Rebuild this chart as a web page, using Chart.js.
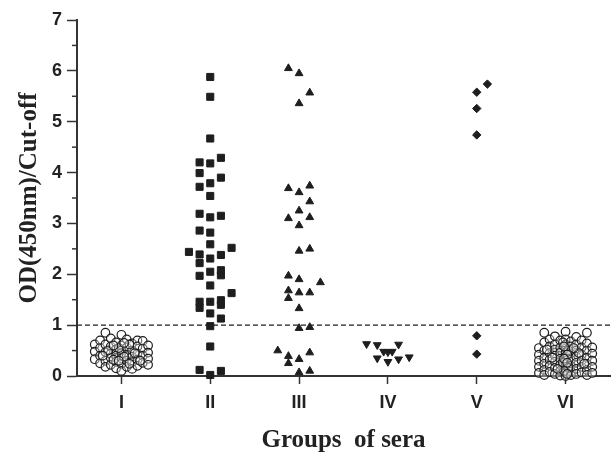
<!DOCTYPE html>
<html>
<head>
<meta charset="utf-8">
<script src="https://cdn.jsdelivr.net/npm/chart.js@4"></script>
<style>
  body { margin: 0; background: #fff; }
  canvas { display: block; }
</style>
</head>
<body>
<canvas id="seraChart" width="616" height="456"></canvas>
<script>
// category names and y ticks
var groupLabels = ["I", "II", "III", "IV", "V", "VI"];
var yTicks = [0, 1, 2, 3, 4, 5, 6, 7];
var cutoff = 1;

// each point: [lane, OD/cut-off], lane = which column of the scatter it sits in
var groupI = [
  [-5, 0.62], [-5, 0.48], [-5, 0.33],
  [-4, 0.70], [-4, 0.55], [-4, 0.40], [-4, 0.25],
  [-3, 0.85], [-3, 0.62], [-3, 0.47], [-3, 0.30], [-3, 0.18],
  [-2, 0.74], [-2, 0.58], [-2, 0.44], [-2, 0.36], [-2, 0.22],
  [-1, 0.66], [-1, 0.52], [-1, 0.40], [-1, 0.28], [-1, 0.15],
  [0, 0.81], [0, 0.60], [0, 0.50], [0, 0.45], [0, 0.35], [0, 0.24], [0, 0.10],
  [1, 0.72], [1, 0.56], [1, 0.42], [1, 0.30], [1, 0.18],
  [2, 0.64], [2, 0.50], [2, 0.38], [2, 0.27], [2, 0.14],
  [3, 0.70], [3, 0.58], [3, 0.44], [3, 0.32], [3, 0.20],
  [4, 0.69], [4, 0.54], [4, 0.40], [4, 0.26],
  [5, 0.60], [5, 0.46], [5, 0.34], [5, 0.22],
  [-0.5, 0.55], [0.5, 0.38], [-1.5, 0.32], [1.5, 0.62],
  [2.5, 0.45], [-2.5, 0.50], [3.5, 0.30], [-3.5, 0.40],
  [-0.5, 0.30], [0.5, 0.65], [1.5, 0.24], [-1.5, 0.60]
];
var groupII = [
  [0, 5.88], [0, 5.49], [0, 4.67], [-1, 4.20], [0, 4.18], [1, 4.29],
  [-1, 3.99], [1, 3.90], [-1, 3.72], [0, 3.79], [0, 3.54],
  [-1, 3.19], [0, 3.12], [1, 3.15], [-1, 2.86], [0, 2.82], [0, 2.59],
  [-2, 2.44], [-1, 2.39], [0, 2.31], [1, 2.38], [2, 2.52], [-1, 2.22],
  [0, 2.05], [1, 2.08], [1, 1.98], [-1, 1.97], [0, 1.78], [2, 1.63],
  [-1, 1.46], [-1, 1.34], [0, 1.46], [1, 1.49], [1, 1.40], [0, 1.23],
  [1, 1.13], [0, 0.98], [0, 0.58], [-1, 0.12], [1, 0.10], [0, 0.02]
];
var groupIII = [
  [-1, 6.05], [0, 5.95], [1, 5.57], [0, 5.36],
  [-1, 3.69], [0, 3.61], [1, 3.74], [1, 3.43], [0, 3.25], [-1, 3.10],
  [1, 3.12], [0, 2.96], [0, 2.46], [1, 2.50],
  [-1, 1.97], [0, 1.90], [2, 1.84], [-1, 1.68], [0, 1.64], [1, 1.64],
  [-1, 1.53], [0, 1.33], [0, 0.94], [1, 0.96],
  [-2, 0.50], [-1, 0.39], [-1, 0.25], [0, 0.33], [1, 0.46], [0, 0.07], [1, 0.10]
];
var groupIV = [
  [-2, 0.63], [-1, 0.61], [-0.4, 0.48], [0, 0.47], [0.4, 0.48], [1, 0.62],
  [-1, 0.35], [0, 0.28], [1, 0.33], [2, 0.37]
];
var groupV = [
  [1, 5.74], [0, 5.58], [0, 5.26], [0, 4.74], [0, 0.79], [0, 0.43]
];
var groupVI = [
  [-5, 0.55], [-5, 0.42], [-5, 0.30], [-5, 0.18], [-5, 0.06],
  [-4, 0.85], [-4, 0.66], [-4, 0.50], [-4, 0.36], [-4, 0.24], [-4, 0.12], [-4, 0.02],
  [-3, 0.72], [-3, 0.58], [-3, 0.45], [-3, 0.32], [-3, 0.20], [-3, 0.08],
  [-2, 0.78], [-2, 0.62], [-2, 0.52], [-2, 0.40], [-2, 0.28], [-2, 0.16], [-2, 0.04],
  [-1, 0.70], [-1, 0.56], [-1, 0.46], [-1, 0.34], [-1, 0.22], [-1, 0.10], [-1, 0.01],
  [0, 0.87], [0, 0.72], [0, 0.62], [0, 0.54], [0, 0.46], [0, 0.38], [0, 0.30],
  [0, 0.22], [0, 0.14], [0, 0.06], [0, 0.00],
  [1, 0.68], [1, 0.58], [1, 0.44], [1, 0.32], [1, 0.20], [1, 0.09], [1, 0.02],
  [2, 0.77], [2, 0.62], [2, 0.50], [2, 0.38], [2, 0.26], [2, 0.14], [2, 0.04],
  [3, 0.70], [3, 0.56], [3, 0.42], [3, 0.30], [3, 0.18], [3, 0.07],
  [4, 0.85], [4, 0.64], [4, 0.50], [4, 0.36], [4, 0.24], [4, 0.12], [4, 0.02],
  [5, 0.56], [5, 0.44], [5, 0.30], [5, 0.18], [5, 0.06],
  [-0.5, 0.66], [0.5, 0.50], [-0.5, 0.26], [0.5, 0.16], [-2.5, 0.36], [2.5, 0.45],
  [-0.3, 0.58], [0.3, 0.42], [-0.3, 0.34], [0.3, 0.26], [-0.3, 0.10], [0.3, 0.04],
  [1.5, 0.55], [-1.5, 0.14], [3.5, 0.24], [-3.5, 0.52]
];

var laneWidths = [0.06, 0.12, 0.12, 0.12, 0.12, 0.06];

function toPoints(pairs, idx) {
  return pairs.map(function(p) {
    return { x: idx + 1 + p[0] * laneWidths[idx], y: p[1] };
  });
}

var ink = "#1e1e1e";
var axisColor = "#333";

function hollow(data) {
  return { data: data, pointStyle: "circle", pointRadius: 4.3, backgroundColor: "rgba(255,255,255,0.35)",
           borderColor: ink, borderWidth: 1.2, clip: false };
}
function solid(data, style, radius, rotation) {
  return { data: data, pointStyle: style, pointRadius: radius, rotation: rotation || 0,
           backgroundColor: ink, borderColor: ink, borderWidth: 1, clip: false };
}

// short ticks halfway between the labelled ones
var minorTicks = {
  id: "minorTicks",
  afterDraw: function(chart) {
    var y = chart.scales.y, c = chart.ctx;
    c.save();
    c.strokeStyle = axisColor;
    c.lineWidth = 1.5;
    for (var i = 0; i < yTicks.length - 1; i++) {
      var py = y.getPixelForValue((yTicks[i] + yTicks[i + 1]) / 2);
      c.beginPath();
      c.moveTo(y.right - 5, py);
      c.lineTo(y.right, py);
      c.stroke();
    }
    c.restore();
  }
};

var ctx = document.getElementById("seraChart").getContext("2d");
var seraChart = new Chart(ctx, {
  type: "scatter",
  data: {
    datasets: [
      hollow(toPoints(groupI, 0)),
      solid(toPoints(groupII, 1), "rect", 5),
      solid(toPoints(groupIII, 2), "triangle", 4.5),
      solid(toPoints(groupIV, 3), "triangle", 4.5, 180),
      solid(toPoints(groupV, 4), "rectRot", 4.2),
      hollow(toPoints(groupVI, 5)),
      {
        type: "line",
        data: [{ x: 0.5, y: cutoff }, { x: 6.5, y: cutoff }],
        borderColor: ink,
        borderWidth: 1.2,
        borderDash: [5, 3],
        pointRadius: 0
      }
    ]
  },
  options: {
    responsive: false,
    animation: false,
    layout: { padding: { top: 20, right: 4, left: 0, bottom: 0 } },
    plugins: { legend: { display: false }, tooltip: { enabled: false } },
    scales: {
      x: {
        type: "linear",
        min: 0.5,
        max: 6.5,
        afterBuildTicks: function(scale) {
          scale.ticks = groupLabels.map(function(l, i) { return { value: i + 1 }; });
        },
        afterFit: function(scale) { scale.height = 80; },
        ticks: {
          callback: function(v) { return groupLabels[Math.round(v) - 1]; },
          font: { family: "Liberation Sans", size: 18, weight: "bold" },
          color: "#222",
          padding: 8,
          maxRotation: 0,
          autoSkip: false
        },
        grid: { drawOnChartArea: false, tickLength: 8, tickWidth: 1.5, tickColor: axisColor },
        border: { color: axisColor, width: 2 },
        title: {
          display: true,
          text: "Groups  of sera",
          font: { family: "Liberation Serif", size: 25, weight: "bold", lineHeight: 1.2 },
          color: "#222",
          padding: { top: 0, bottom: 0 }
        }
      },
      y: {
        min: yTicks[0],
        max: yTicks[yTicks.length - 1],
        afterFit: function(scale) { scale.width = 77; },
        ticks: {
          stepSize: 1,
          font: { family: "Liberation Sans", size: 18, weight: "bold" },
          color: "#222",
          padding: 5
        },
        grid: { drawOnChartArea: false, tickLength: 10, tickWidth: 1.5, tickColor: axisColor },
        border: { color: axisColor, width: 2 },
        title: {
          display: true,
          text: "OD(450nm)/Cut-off",
          font: { family: "Liberation Serif", size: 25, weight: "bold", lineHeight: 1.2 },
          color: "#222",
          padding: { top: 15, bottom: 0 }
        }
      }
    }
  },
  plugins: [minorTicks]
});
</script>
</body>
</html>
